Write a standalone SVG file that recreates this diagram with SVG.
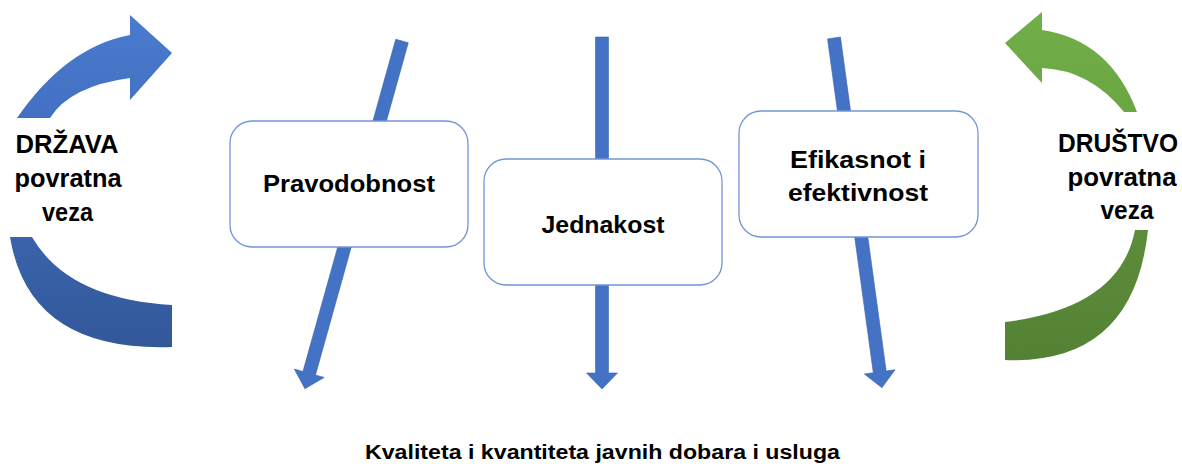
<svg xmlns="http://www.w3.org/2000/svg" width="1182" height="466" viewBox="0 0 1182 466">
  <style>
    .box { fill: #ffffff; stroke: #7196d8; stroke-width: 1.3; }
    .lbl { font-family: "Liberation Sans", Arial, sans-serif; font-weight: bold; fill: #000000; text-anchor: middle; }
    .arr { fill: #4472C4; stroke: #3b66b3; stroke-width: 0.6; }
  </style>
  <defs>
    <linearGradient id="blueTop" x1="0" y1="0" x2="0" y2="1">
      <stop offset="0" stop-color="#4a7bcf"/>
      <stop offset="1" stop-color="#4370c2"/>
    </linearGradient>
    <linearGradient id="blueBot" x1="0" y1="0" x2="0" y2="1">
      <stop offset="0" stop-color="#3963ab"/>
      <stop offset="1" stop-color="#33589a"/>
    </linearGradient>
    <linearGradient id="greenTop" x1="0" y1="0" x2="0" y2="1">
      <stop offset="0" stop-color="#72ae48"/>
      <stop offset="1" stop-color="#6aa642"/>
    </linearGradient>
    <linearGradient id="greenBot" x1="0" y1="0" x2="0" y2="1">
      <stop offset="0" stop-color="#5c8d3a"/>
      <stop offset="1" stop-color="#548235"/>
    </linearGradient>
  </defs>

  <rect x="0" y="0" width="1182" height="466" fill="#ffffff"/>

  <g id="connectors">
    <polygon class="arr" transform="translate(402,41) rotate(15.6)" points="-6.5,0 6.5,0 6.5,345 15.5,345 0,361 -15.5,345 -6.5,345"/>
    <polygon class="arr" transform="translate(602,37)" points="-6.5,0 6.5,0 6.5,336 15.5,336 0,352 -15.5,336 -6.5,336"/>
    <polygon class="arr" transform="translate(834,38) rotate(-7.8)" points="-6.5,0 6.5,0 6.5,337 15.5,337 0,353 -15.5,337 -6.5,337"/>
  </g>

  <g id="drzava">
    <path fill="url(#blueTop)" d="M17,118 Q66,47 130,35 L130,15 L172,53 L130,100 L130,78 Q70,86 50,118 Z"/>
    <path fill="url(#blueBot)" d="M10,237 Q29,352 172,347 L172,305 Q68,299 32,237 Z"/>
    <text class="lbl" font-size="25" x="67" y="153" textLength="103" lengthAdjust="spacingAndGlyphs">DRŽAVA</text>
    <text class="lbl" font-size="25" x="68" y="187" textLength="107" lengthAdjust="spacingAndGlyphs">povratna</text>
    <text class="lbl" font-size="25" x="67.5" y="221" textLength="51" lengthAdjust="spacingAndGlyphs">veza</text>
  </g>

  <g id="drustvo">
    <path fill="url(#greenTop)" d="M1137,112 Q1110,40 1042,30 L1042,12 L1005,43 L1042,83 L1042,68 Q1090,70 1124,112 Z"/>
    <path fill="url(#greenBot)" d="M1148,230 Q1133.5,365 1005,360 L1005,322 Q1120,308 1135,230 Z"/>
    <text class="lbl" font-size="25" x="1118" y="152" textLength="120" lengthAdjust="spacingAndGlyphs">DRUŠTVO</text>
    <text class="lbl" font-size="25" x="1122" y="186" textLength="109" lengthAdjust="spacingAndGlyphs">povratna</text>
    <text class="lbl" font-size="25" x="1127" y="219" textLength="53" lengthAdjust="spacingAndGlyphs">veza</text>
  </g>

  <g id="pravodobnost">
    <rect class="box" x="230" y="121" width="238" height="126" rx="22" ry="22"/>
    <text class="lbl" font-size="24" x="349" y="192" textLength="172" lengthAdjust="spacingAndGlyphs">Pravodobnost</text>
  </g>

  <g id="jednakost">
    <rect class="box" x="484" y="159" width="238" height="126" rx="22" ry="22"/>
    <text class="lbl" font-size="24" x="603" y="233" textLength="123" lengthAdjust="spacingAndGlyphs">Jednakost</text>
  </g>

  <g id="efikasnost">
    <rect class="box" x="739" y="111" width="239" height="126" rx="22" ry="22"/>
    <text class="lbl" font-size="24" x="858" y="168" textLength="136" lengthAdjust="spacingAndGlyphs">Efikasnot i</text>
    <text class="lbl" font-size="24" x="858" y="201" textLength="140" lengthAdjust="spacingAndGlyphs">efektivnost</text>
  </g>

  <g id="ishod">
    <text class="lbl" font-size="19.5" x="602.5" y="459" textLength="475" lengthAdjust="spacingAndGlyphs">Kvaliteta i kvantiteta javnih dobara i usluga</text>
  </g>
</svg>
